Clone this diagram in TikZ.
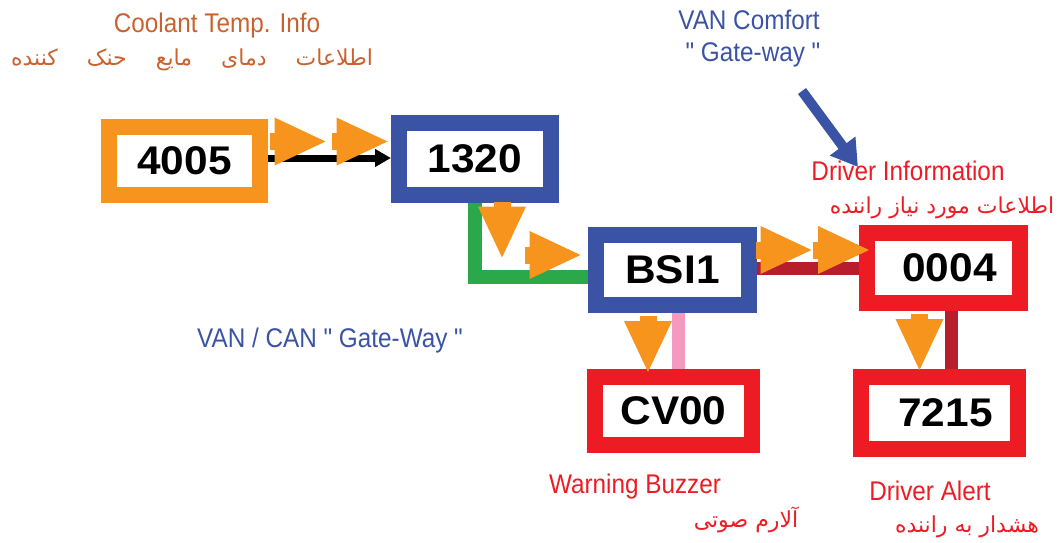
\documentclass[tikz,border=0pt]{standalone}
\usepackage{fontspec}
\setmainfont{Liberation Sans}
\newfontfamily\labelfont[FakeStretch=0.9]{Liberation Sans}
\newfontfamily\codefont[FakeStretch=1.06]{Liberation Sans}
\newfontfamily\farsifont[Script=Arabic]{DejaVu Sans}
\TeXXeTstate=1
\usepackage{xcolor}
\usetikzlibrary{arrows.meta, positioning}

\definecolor{canorange}{HTML}{F7941D}
\definecolor{canblue}{HTML}{3A53A4}
\definecolor{canred}{HTML}{ED1C24}
\definecolor{cangreen}{HTML}{2BA84A}
\definecolor{candarkred}{HTML}{B81D2B}
\definecolor{canpink}{HTML}{F49AC1}
\definecolor{infobrown}{HTML}{C9622E}

\tikzset{
  pics/flowmark/.style={code={
    \fill[canorange] (-28,-8.5) rectangle (-22,8.5);
    \fill[canorange] (-23,-24) -- (28,0) -- (-23,24) -- cycle;
  }}
}

\begin{document}
\begin{tikzpicture}[
    x=1pt, y=-1pt,
    ecu/.style={draw, line width=16, fill=white, inner sep=0pt, font=\codefont\bfseries\fontsize{40}{40}\selectfont},
    link/.style={line width=13},
    enlabel/.style={font=\labelfont\fontsize{27}{30}\selectfont, anchor=base, inner sep=0pt},
    falabel/.style={font=\farsifont\fontsize{22}{26}\selectfont, anchor=base, inner sep=0pt},
]
\useasboundingbox (0,0) rectangle (1060,543);

% ---- ECU boxes ----
\node[ecu, draw=canorange, minimum width=151, minimum height=68] (n4005) at (184.5,161) {4005};
\node[ecu, draw=canblue, minimum width=152, minimum height=72] (n1320) at (475,159) {1320};
\node[ecu, draw=canblue, minimum width=153, minimum height=70] (nBSI1) at (672.5,270) {BSI1};
\node[ecu, draw=canred, minimum width=153, minimum height=70] (n0004) at (943.5,268) {\hspace{12pt}0004};
\node[ecu, draw=canred, minimum width=157, minimum height=68] (nCV00) at (673.5,411) {CV00};
\node[ecu, draw=canred, minimum width=157, minimum height=72] (n7215) at (939.5,413) {\hspace{12pt}7215};

% ---- Bus links ----
\draw[-{Triangle[length=16,width=17]}, line width=7] ([yshift=3]n4005.east) -- ([yshift=3]n4005.east -| n1320.west);
\draw[link, cangreen, line width=14] (n1320.south) |- ([yshift=-7]nBSI1.west);
\draw[link, candarkred] (nBSI1.east |- n0004.west) -- (n0004.west);
\draw[link, canpink] ([xshift=6]nBSI1.south) -- ([xshift=6]nBSI1.south |- nCV00.north);
\draw[link, candarkred] ([xshift=8]n0004.south) -- ([xshift=8]n0004.south |- n7215.north);

% ---- Flow marks ----
\pic at (297.5,141.5) {flowmark};
\pic at (359.5,141.5) {flowmark};
\pic[rotate=-90] at (502,229.5) {flowmark};
\pic at (552.5,255) {flowmark};
\pic at (783.5,250) {flowmark};
\pic at (841,250) {flowmark};
\pic[rotate=-90] at (648,344) {flowmark};
\pic[rotate=-90] at (919.5,342) {flowmark};

% ---- Labels ----
\node[enlabel, text=infobrown] (coolantEn) at (217,33) {Coolant Temp. Info};
\node[falabel, text=infobrown] (coolantFa) at (192,66) {\beginR اطلاعات\hspace{22pt} دمای\hspace{22pt} مایع\hspace{22pt} حنک\hspace{22pt} کننده\endR};
\node[enlabel, text=canblue] (vanComfort) at (749,30) {VAN Comfort};
\node[enlabel, text=canblue] (comfortGate) at (753,62) {" Gate-way "};
\node[enlabel, text=canred] (driverInfo) at (908,180) {Driver Information};
\node[falabel, text=canred] (driverInfoFa) at (942,213) {\beginR اطلاعات مورد نیاز راننده\endR};
\node[enlabel, text=canblue] (vanCan) at (330,347) {VAN / CAN " Gate-Way "};
\node[enlabel, text=canred] (buzzerEn) at (635,493) {Warning Buzzer};
\node[falabel, text=canred] (buzzerFa) at (746,527) {\beginR آلارم صوتی\endR};
\node[enlabel, text=canred] (alertEn) at (930,500) {Driver Alert};
\node[falabel, text=canred] (alertFa) at (967,532) {\beginR هشدار به راننده\endR};

% ---- Comfort gateway pointer ----
\coordinate (comfortTail) at (802,91);
\coordinate (comfortTip) at (858,167);
\draw[-{Triangle[length=26,width=30]}, line width=10, canblue] (comfortTail) -- (comfortTip);

\end{tikzpicture}
\end{document}
